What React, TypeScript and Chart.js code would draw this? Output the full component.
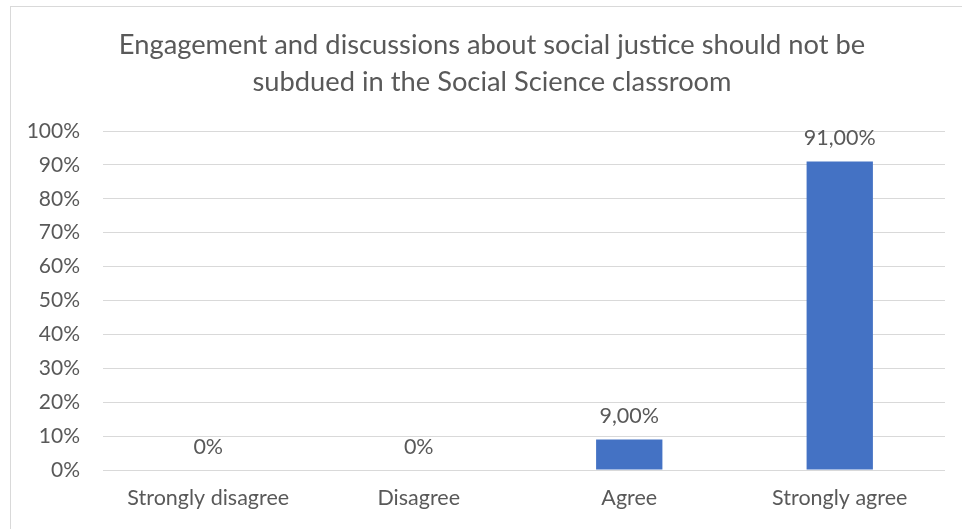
import React, { useEffect, useRef } from "react";
import { Chart, registerables } from "chart.js";

Chart.register(...registerables);

const titleLines = [
  "Engagement and discussions about social justice should not be",
  "subdued in the Social Science classroom",
];
const categories = ["Strongly disagree", "Disagree", "Agree", "Strongly agree"];
const values = [0, 0, 9, 91];
const yTicks = [0, 10, 20, 30, 40, 50, 60, 70, 80, 90, 100];

const FONT = "Lato, 'Open Sans', sans-serif";
const TEXT = "#595959";
const GRID = "#d9d9d9";
const BAR = "#4472C4";

const fmt = (v: number) => (v === 0 ? "0%" : v.toFixed(2).replace(".", ",") + "%");

const dataLabels = {
  id: "dataLabels",
  afterDatasetsDraw(chart: any) {
    const ctx = chart.ctx;
    const meta = chart.getDatasetMeta(0);
    ctx.save();
    ctx.font = `21.5px ${FONT}`;
    ctx.fillStyle = TEXT;
    ctx.textAlign = "center";
    ctx.textBaseline = "middle";
    meta.data.forEach((el: any, i: number) => {
      ctx.fillText(fmt(values[i]), el.x, el.y - 23);
    });
    ctx.restore();
  },
};

const chartTitle = {
  id: "chartTitle",
  afterDraw(chart: any) {
    const ctx = chart.ctx;
    ctx.save();
    ctx.font = `27.3px ${FONT}`;
    ctx.fillStyle = TEXT;
    ctx.textAlign = "center";
    ctx.textBaseline = "middle";
    const cx = 492;
    titleLines.forEach((line, i) => {
      ctx.fillText(line, cx, 45 + i * 37);
    });
    ctx.restore();
  },
};

export default function App() {
  const ref = useRef<HTMLCanvasElement | null>(null);
  useEffect(() => {
    if (!ref.current) return;
    const chart = new Chart(ref.current, {
      type: "bar",
      data: {
        labels: categories,
        datasets: [
          {
            data: values,
            backgroundColor: BAR,
            categoryPercentage: 1,
            barPercentage: 0.315,
          },
        ],
      },
      options: {
        animation: false,
        responsive: false,
        layout: { padding: { left: 0, right: 17, top: 131, bottom: 0 } },
        plugins: {
          legend: { display: false },
          tooltip: { enabled: false },
          title: { display: false },
        },
        scales: {
          x: {
            grid: { display: false, drawTicks: false },
            border: { display: false },
            ticks: { color: TEXT, font: { family: FONT, size: 21.5 }, padding: 15 },
            afterFit: (s: any) => {
              s.height = 59;
            },
          },
          y: {
            min: 0,
            max: 100,
            afterBuildTicks: (s: any) => {
              s.ticks = yTicks.map((v) => ({ value: v }));
            },
            grid: { color: GRID, lineWidth: 1, drawTicks: false },
            border: { display: false },
            ticks: {
              color: TEXT,
              font: { family: FONT, size: 21 },
              padding: 23,
              callback: (v: any) => v + "%",
            },
            afterFit: (s: any) => {
              s.width = 103;
            },
          },
        },
      },
      plugins: [dataLabels, chartTitle],
    });
    return () => chart.destroy();
  }, []);
  return (
    <div style={{ position: "fixed", left: 0, top: 0, width: 962, height: 529, background: "#fff", overflow: "hidden" }}>
      <div
        style={{
          position: "absolute",
          left: 10,
          top: 6,
          width: 1000,
          height: 600,
          border: `1px solid ${GRID}`,
        }}
      />
      <canvas ref={ref} width={962} height={529} style={{ position: "absolute", left: 0, top: 0, display: "block" }} />
    </div>
  );
}
